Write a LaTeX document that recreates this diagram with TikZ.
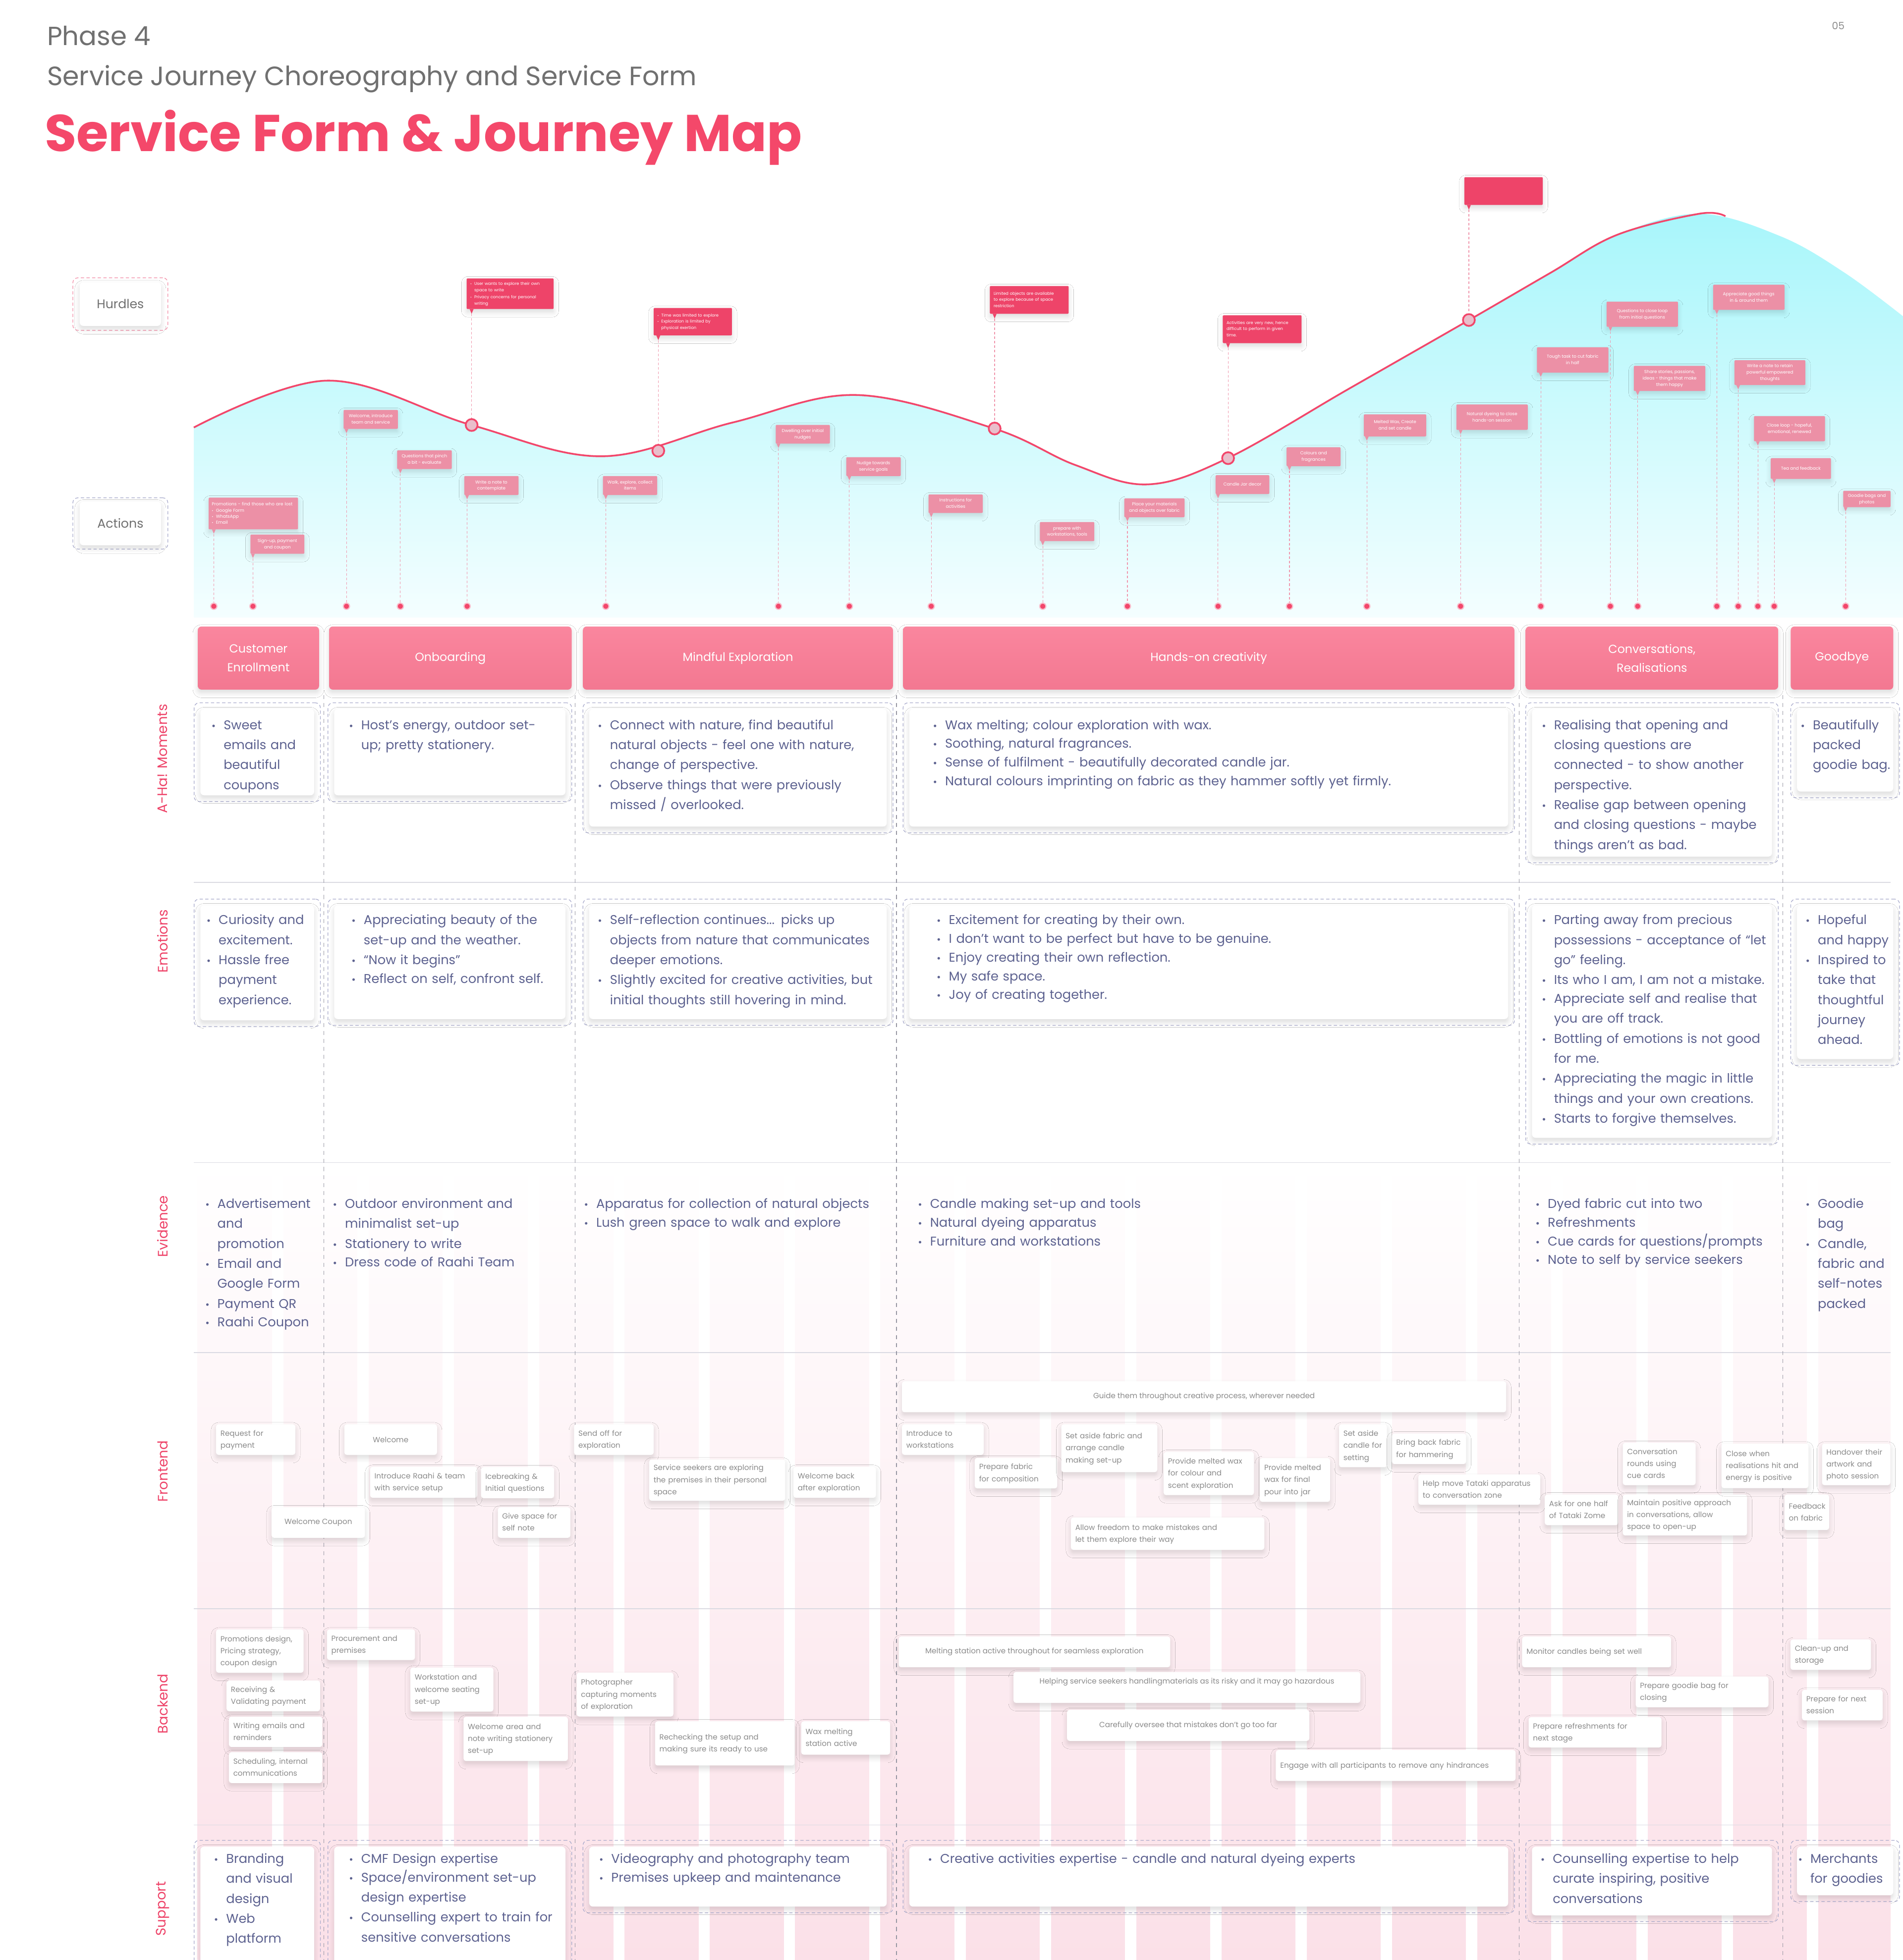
\documentclass[tikz,border=0pt]{standalone}
\usepackage{fontspec}
\setmainfont{Poppins}
\usepackage{graphicx}
\usepackage{xcolor}
\usepackage{tikz}
\usetikzlibrary{arrows.meta,positioning,calc,shadows.blur}
\definecolor{HurRed}{RGB}{238,68,105}
\definecolor{TitleRed}{RGB}{244,72,106}
\definecolor{ActPink}{RGB}{236,144,166}
\definecolor{PhaseTop}{RGB}{250,134,158}
\definecolor{PhaseBot}{RGB}{243,120,145}
\definecolor{CardInk}{RGB}{93,98,144}
\definecolor{FrameLav}{RGB}{167,169,203}
\definecolor{FramePink}{RGB}{242,139,165}
\definecolor{HeadGray}{RGB}{112,112,112}
\definecolor{BoxInk}{RGB}{138,138,138}
\definecolor{CyanTop}{RGB}{168,246,251}
\definecolor{CyanMid}{RGB}{196,250,253}
\definecolor{CyanBot}{RGB}{244,254,255}
\definecolor{StripePink}{RGB}{251,224,232}
\definecolor{RowLine}{RGB}{218,218,226}
\definecolor{ColDash}{RGB}{150,150,162}
\definecolor{CurveRed}{RGB}{242,71,107}
\definecolor{MarkFill}{RGB}{233,190,203}
\definecolor{DotHalo}{RGB}{249,190,204}
\definecolor{ActLine}{RGB}{240,150,172}
\newcommand{\txtlines}[1]{\begin{tabular}{@{}l@{}}#1\end{tabular}}
\newcommand{\ctrlines}[1]{\begin{tabular}{@{}c@{}}#1\end{tabular}}
\newcommand{\bpt}[1]{\noindent\makebox[0.95em][l]{\scalebox{0.8}{•}}\begin{tabular}[t]{@{}l@{}}#1\end{tabular}\par\vskip-0.1em\relax}
\newcommand{\panel}[5]{%
  \node[pframe,minimum width={#4-#2},minimum height={#5-#3}] (#1F) at (#2,#3) {};
  \node[pcard,minimum width={#4-#2-10},minimum height={#5-#3-10}] (#1C) at (#1F.center) {};}
\tikzset{
  softshadow/.style={blur shadow={shadow blur steps=6,shadow xshift=0pt,shadow yshift=-2.5pt,
                     shadow opacity=14,shadow blur radius=4pt}},
  pframe/.style={anchor=north west,draw=FrameLav,dash pattern=on 2.6pt off 1.9pt,line width=0.5pt,
                 rounded corners=4pt,inner sep=0pt},
  pcard/.style={anchor=center,fill=white,rounded corners=3pt,inner sep=0pt,softshadow},
  ptext/.style={anchor=base west,inner sep=0pt,text width=330pt,text=CardInk,
                font=\fontsize{10.2}{16}\selectfont},
  stagebox/.style={anchor=north west,rounded corners=3pt,top color=PhaseTop,bottom color=PhaseBot,
                   text=white,align=center,inner sep=0pt,font=\fontsize{9.4}{15}\selectfont,softshadow},
  rowlab/.style={rotate=90,text=HurRed,font=\fontsize{11}{13}\selectfont},
  actbox/.style={anchor=north west,fill=ActPink,text=white,inner sep=0pt,rounded corners=0.6pt,
                 font=\fontsize{3.5}{5.1}\selectfont,softshadow},
  hurbox/.style={anchor=north west,fill=HurRed,text=white,inner xsep=3pt,inner ysep=0pt,
                 rounded corners=0.6pt,font=\fontsize{3.3}{5}\selectfont,softshadow},
  actline/.style={ActLine,dash pattern=on 2pt off 1.6pt,line width=0.45pt},
  dotmark/.style={circle,fill=CurveRed,draw=DotHalo,line width=0.9pt,inner sep=0pt,minimum size=5pt},
  hmark/.style={circle,draw=CurveRed,fill=MarkFill,line width=1.4pt,inner sep=0pt,minimum size=9.5pt},
  fcard/.style={anchor=north west,fill=white,rounded corners=2pt,inner xsep=3.5pt,inner ysep=0pt,
                text=BoxInk,font=\fontsize{6}{9.6}\selectfont,softshadow},
  journey/.style={CurveRed,line width=1.4pt},
  colsep/.style={ColDash,dash pattern=on 3.2pt off 3.2pt,line width=0.45pt},
  rowsep/.style={RowLine,line width=0.6pt},
}

\begin{document}
\begin{tikzpicture}[x=1pt,y=-1pt]
  \useasboundingbox (0,0) rectangle (1522,1568);
  \fill[white] (0,0) rectangle (1522,1568);

  % header
  \node[anchor=base west,inner sep=0pt,text=HeadGray,font=\fontsize{21}{24}\selectfont] (phase) at (37.5,36.3) {Phase 4};
  \node[anchor=base west,inner sep=0pt,text=HeadGray,font=\fontsize{21.3}{24}\selectfont] (subtitle) at (37.5,68.4) {Service Journey Choreography and Service Form};
  \node[anchor=base west,inner sep=0pt,text=TitleRed,font=\fontsize{41.4}{48}\selectfont\bfseries] (title) at (35.5,121) {Service Form \& Journey Map};
  \node[anchor=base west,inner sep=0pt,text=HeadGray!80,font=\fontsize{8}{9}\selectfont] (pageno) at (1465,23.5) {05};

  % emotion curve
  \shade[top color=CyanTop,middle color=CyanMid,bottom color=CyanBot]
    (155,494) -- plot[smooth,tension=0.6] coordinates {(155,342) (262,304.5) (377,340) (481.5,365)
      (586,338) (685,316) (795.5,343) (860,372) (918,387.5) (982,366.5) (1078,311.5) (1175,256)
      (1240,218.3) (1293,188) (1359,171) (1424,189) (1475,218) (1522,253)} -- (1522,494) -- cycle;
  \draw[journey] plot[smooth,tension=0.6] coordinates {(155,342) (262,304.5) (377,340) (481.5,365)
      (586,338) (685,316) (795.5,343) (860,372) (918,387.5) (982,366.5) (1078,311.5) (1175,256)
      (1240,218.3) (1293,188) (1359,171) (1380,173)};

  % striped lanes
  \shade[top color=white,bottom color=StripePink] (158,930) rectangle (1512,1568);
  \foreach \k in {0,...,18}
    \fill[white] ({217.7+68.2*\k},930) rectangle ++(9,638);
  \foreach \y in {706,930,1082,1287,1460}
    \draw[rowsep] (155,\y) -- (1512,\y);
  \foreach \x in {259,460,717,1215,1426}
    \draw[colsep] (\x,556) -- (\x,1568);

  % left labels
  \node[pframe,draw=FramePink,minimum width=76,minimum height=42] (hurF) at (58,222) {};
  \node[pcard,minimum width=65,minimum height=35,text=HeadGray,font=\fontsize{10}{12}\selectfont] (hurdles) at (hurF.center) {Hurdles};
  \node[pframe,minimum width=76,minimum height=41] (actF) at (58,398) {};
  \node[pcard,minimum width=65,minimum height=35,text=HeadGray,font=\fontsize{10}{12}\selectfont] (actions) at (actF.center) {Actions};

  % hurdles
  \foreach \i/\x/\y in {1/377.2/340,2/526.5/360.6,3/795.5/342.8,4/982.2/366.5,5/1174.8/256}
    \node[hmark] (h\i) at (\x,\y) {};
  \node[hurbox,minimum width=69.6,minimum height=24.4,text width=63.6] (hb1) at (373,222.6)
    {\bpt{User wants to explore their own\\space to write}\bpt{Privacy concerns for personal\\writing}};
  \node[hurbox,minimum width=62.6,minimum height=21.9,text width=56.6] (hb2) at (522.6,246.2)
    {\bpt{Time was limited to explore}\bpt{Exploration is limited by\\physical exertion}};
  \node[hurbox,minimum width=63,minimum height=22.2,text width=57] (hb3) at (791.5,228.6)
    {\txtlines{Limited objects are available\\to explore because of space\\restriction}};
  \node[hurbox,minimum width=63,minimum height=22.3,text width=57] (hb4) at (977.8,252)
    {\txtlines{Activities are very new, hence\\difficult to perform in given\\time.}};
  \node[hurbox,minimum width=62.7,minimum height=22.2] (hb5) at (1171,141.5) {};
  \foreach \i in {1,...,5}{
    \draw[actline] (hb\i.south -| h\i) -- (h\i);
    \fill[HurRed] ($(hb\i.south -| h\i)+(-1.6,-0.2)$) -- ($(hb\i.south -| h\i)+(1.6,-0.2)$)
      -- ($(hb\i.south -| h\i)+(0,3.6)$) -- cycle;
  }

  % actions
  \node[actbox,minimum width=71.5,minimum height=25.4,text width=66.5,inner xsep=2.5pt] (a1) at (166.7,397.9)
    {\txtlines{Promotions - find those who are lost}\par\bpt{Google Form}\bpt{WhatsApp}\bpt{Email}};
  \node[dotmark] (dota1) at (171,485) {};
  \draw[actline] (a1.south -| dota1) -- (dota1);
  \fill[ActPink] ($(a1.south -| dota1)+(-1.5,-0.2)$) -- ($(a1.south -| dota1)+(1.5,-0.2)$)
    -- ($(a1.south -| dota1)+(0,3.2)$) -- cycle;
  \foreach \n/\d/\x/\y/\w/\h/\t in {
    a2/202.3/200.1/427.5/43.1/15.3/{Sign-up, payment\\and coupon},
    a3/277.1/274.6/327.7/43.4/15.2/{Welcome, introduce\\team and service},
    a4/320.2/317.4/360/43.7/15/{Questions that pinch\\a bit - evaluate},
    a5/373.6/371.1/380.6/43.4/15.2/{Write a note to\\contemplate},
    a6/484.5/482/380.6/43.4/15.2/{Walk, explore, collect\\items},
    a7/622.6/620.2/339.7/43.3/15/{Dwelling over initial\\nudges},
    a8/679.3/676.6/365.6/43.6/15/{Nudge towards\\service goals},
    a9/744.8/742.4/395.4/43.4/14.8/{Instructions for\\activities},
    a10/834/831.5/417.4/43.5/15.3/{prepare with\\workstations, tools},
    a11/901.7/899/398.5/48.2/15/{Place your materials\\and objects over fabric},
    a12/974.2/972/380/43/15/{Candle Jar decor},
    a13/1031.3/1028.8/357.6/43.2/15.1/{Colours and\\fragrances},
    a14/1093.2/1090.6/331.3/49.9/17.6/{Melted Wax, Create\\and set candle},
    a15/1168.2/1164.6/323.4/57.1/20.3/{Natural dyeing to close\\hands-on session},
    a16/1232.3/1229/277.6/57.2/20.3/{Tough task to cut fabric\\in half},
    a17/1288/1284.7/241.1/57.1/20.1/{Questions to close loop\\from initial questions},
    a18/1309.8/1306.5/292.5/57.2/20.1/{Share stories, passions,\\ideas - things that make\\them happy},
    a19/1373.1/1369.9/227.6/57.1/20.1/{Appreciate good things\\in \& around them},
    a20/1390.2/1387/288/56.7/19.8/{Write a note to retain\\powerful empowered\\thoughts},
    a21/1405.9/1402.6/332.7/56.8/20.1/{Close loop - hopeful,\\emotional, renewed},
    a22/1419/1416/366.3/48.2/16.6/{Tea and feedback},
    a23/1476.1/1474/392.4/37.8/13.1/{Goodie bags and\\photos}}{
    \node[actbox,minimum width=\w,minimum height=\h] (\n) at (\x,\y) {\ctrlines{\t}};
    \node[dotmark] (dot\n) at (\d,485) {};
    \draw[actline] (\n.south -| dot\n) -- (dot\n);
    \fill[ActPink] ($(\n.south -| dot\n)+(-1.5,-0.2)$) -- ($(\n.south -| dot\n)+(1.5,-0.2)$)
      -- ($(\n.south -| dot\n)+(0,3.2)$) -- cycle;
  }

  % stages
  \node[stagebox,minimum width=97,minimum height=50.5] (p1) at (158,501) {Customer\\Enrollment};
  \node[stagebox,minimum width=194,minimum height=50.5] (p2) at (263,501) {Onboarding};
  \node[stagebox,minimum width=248,minimum height=50.5] (p3) at (466,501) {Mindful Exploration};
  \node[stagebox,minimum width=489,minimum height=50.5] (p4) at (722,501) {Hands-on creativity};
  \node[stagebox,minimum width=202,minimum height=50.5] (p5) at (1220,501) {Conversations,\\Realisations};
  \node[stagebox,minimum width=82,minimum height=50.5] (p6) at (1432,501) {Goodbye};

  % row labels
  \node[rowlab] (rA) at (130,607) {A-Ha! Moments};
  \node[rowlab] (rE) at (130,753) {Emotions};
  \node[rowlab] (rV) at (130,981) {Evidence};
  \node[rowlab] (rF) at (130,1177) {Frontend};
  \node[rowlab] (rB) at (130,1363) {Backend};
  \node[rowlab] (rS) at (130,1527) {Support};

  % a-ha moments
  \panel{ah1}{155}{562}{256}{641}
  \panel{ah2}{262}{562}{457}{641}
  \panel{ah3}{466}{562}{714}{666}
  \panel{ah4}{722}{562}{1211}{666}
  \panel{ah5}{1220}{562}{1422}{690}
  \panel{ah6}{1432}{562}{1519}{638}
  \node[ptext] (ah1T) at (169,583.5) {\bpt{Sweet\\emails and\\beautiful\\coupons}};
  \node[ptext] (ah2T) at (279,583.5) {\bpt{Host’s energy, outdoor set-\\up; pretty stationery.}};
  \node[ptext] (ah3T) at (478,583.5) {\bpt{Connect with nature, find beautiful\\natural objects - feel one with nature,\\change of perspective.}\bpt{Observe things that were previously\\missed / overlooked.}};
  \node[ptext] (ah4T) at (746,583.5) {\bpt{Wax melting; colour exploration with wax.}\bpt{Soothing, natural fragrances.}\bpt{Sense of fulfilment - beautifully decorated candle jar.}\bpt{Natural colours imprinting on fabric as they hammer softly yet firmly.}};
  \node[ptext] (ah5T) at (1233,583.5) {\bpt{Realising that opening and\\closing questions are\\connected - to show another\\perspective.}\bpt{Realise gap between opening\\and closing questions - maybe\\things aren’t as bad.}};
  \node[ptext] (ah6T) at (1440,583.5) {\bpt{Beautifully\\packed\\goodie bag.}};

  % emotions
  \panel{em1}{155}{719}{256}{821}
  \panel{em2}{262}{719}{457}{820}
  \panel{em3}{466}{719}{714}{820}
  \panel{em4}{722}{719}{1211}{820}
  \panel{em5}{1220}{719}{1422}{915}
  \panel{em6}{1432}{719}{1519}{852}
  \node[ptext] (em1T) at (165,739.5) {\bpt{Curiosity and\\excitement.}\bpt{Hassle free\\payment\\experience.}};
  \node[ptext] (em2T) at (281,739.5) {\bpt{Appreciating beauty of the\\set-up and the weather.}\bpt{“Now it begins”}\bpt{Reflect on self, confront self.}};
  \node[ptext] (em3T) at (478,739.5) {\bpt{Self-reflection continues... picks up\\objects from nature that communicates\\deeper emotions.}\bpt{Slightly excited for creative activities, but\\initial thoughts still hovering in mind.}};
  \node[ptext] (em4T) at (749,739.5) {\bpt{Excitement for creating by their own.}\bpt{I don’t want to be perfect but have to be genuine.}\bpt{Enjoy creating their own reflection.}\bpt{My safe space.}\bpt{Joy of creating together.}};
  \node[ptext] (em5T) at (1233,739.5) {\bpt{Parting away from precious\\possessions - acceptance of “let\\go” feeling.}\bpt{Its who I am, I am not a mistake.}\bpt{Appreciate self and realise that\\you are off track.}\bpt{Bottling of emotions is not good\\for me.}\bpt{Appreciating the magic in little\\things and your own creations.}\bpt{Starts to forgive themselves.}};
  \node[ptext] (em6T) at (1444,739.5) {\bpt{Hopeful\\and happy}\bpt{Inspired to\\take that\\thoughtful\\journey\\ahead.}};

  % evidence
  \node[ptext] (ev1T) at (164,966.5) {\bpt{Advertisement\\and\\promotion}\bpt{Email and\\Google Form}\bpt{Payment QR}\bpt{Raahi Coupon}};
  \node[ptext] (ev2T) at (266,966.5) {\bpt{Outdoor environment and\\minimalist set-up}\bpt{Stationery to write}\bpt{Dress code of Raahi Team}};
  \node[ptext] (ev3T) at (467,966.5) {\bpt{Apparatus for collection of natural objects}\bpt{Lush green space to walk and explore}};
  \node[ptext] (ev4T) at (734,966.5) {\bpt{Candle making set-up and tools}\bpt{Natural dyeing apparatus}\bpt{Furniture and workstations}};
  \node[ptext] (ev5T) at (1228,966.5) {\bpt{Dyed fabric cut into two}\bpt{Refreshments}\bpt{Cue cards for questions/prompts}\bpt{Note to self by service seekers}};
  \node[ptext] (ev6T) at (1444,966.5) {\bpt{Goodie\\bag}\bpt{Candle,\\fabric and\\self-notes\\packed}};

  % frontend
  \foreach \n/\x/\y/\w/\h/\t in {
    f1/172.6/1139.2/63.4/24.5/{Request for\\payment},
    f3/295.8/1173.2/85.7/24.8/{Introduce Raahi \& team\\with service setup},
    f4/384.5/1173.5/58.5/24.8/{Icebreaking \&\\Initial questions},
    f6/398/1205.6/58/24.4/{Give space for\\self note},
    f7/458.9/1139.2/63.7/24.5/{Send off for\\exploration},
    f8/519/1167.3/108.8/33.1/{Service seekers are exploring\\the premises in their personal\\space},
    f9/634.4/1173.2/66/24.8/{Welcome back\\after exploration},
    f11/721.2/1139.2/65.4/24.5/{Introduce to\\workstations},
    f12/779.4/1166/66/24.5/{Prepare fabric\\for composition},
    f13/848.6/1139.2/76.8/38.3/{Set aside fabric and\\arrange candle\\making set-up},
    f14/930.5/1161.3/72.2/34.6/{Provide melted wax\\for colour and\\scent exploration},
    f15/1007.4/1166.2/56.2/35.1/{Provide melted\\wax for final\\pour into jar},
    f16/1070.8/1139.2/38.2/34.4/{Set aside\\candle for\\setting},
    f17/1113/1146.6/59.4/24.4/{Bring back fabric\\for hammering},
    f18/1134.2/1179.3/97.5/24.3/{Help move Tataki apparatus\\to conversation zone},
    f19/856.3/1213.8/154.7/25.9/{Allow freedom to make mistakes and\\let them explore their way},
    f20/1235.3/1195.4/58.7/24.5/{Ask for one half\\of Tataki Zome},
    f21/1297.7/1154/58.3/33.9/{Conversation\\rounds using\\cue cards},
    f22/1297.7/1195.4/99.4/32.8/{Maintain positive approach\\in conversations, allow\\space to open-up},
    f23/1376.6/1154.6/69.6/35.7/{Close when\\realisations hit and\\energy is positive},
    f24/1427/1195.4/35.7/28.4/{Feedback\\on fabric},
    f25/1457/1154.6/54.7/33.3/{Handover their\\artwork and\\photo session}}
    \node[fcard,minimum width=\w,minimum height=\h,text width=\w-7] (\n) at (\x,\y) {\txtlines{\t}};
  \node[fcard,minimum width=74.1,minimum height=24.5,align=center] (f2) at (275.2,1139.2) {Welcome};
  \node[fcard,minimum width=74.7,minimum height=24.4,align=center] (f5) at (217,1205.6) {Welcome Coupon};
  \node[fcard,minimum width=483.2,minimum height=24.8,align=center] (f10) at (721.2,1104.8) {Guide them throughout creative process, wherever needed};

  % backend
  \foreach \n/\x/\y/\w/\h/\t in {
    b1/172.6/1303.3/70/34.7/{Promotions design,\\Pricing strategy,\\coupon design},
    b2/181/1344.2/74.8/24.6/{Receiving \&\\Validating payment},
    b3/182.9/1373/74.7/24.4/{Writing emails and\\reminders},
    b4/182.9/1401.5/74.7/24.7/{Scheduling, internal\\communications},
    b5/261.3/1303.3/70.4/24.5/{Procurement and\\premises},
    b6/328/1333.8/66.4/35.3/{Workstation and\\welcome seating\\set-up},
    b7/370.5/1373.2/83.5/35.4/{Welcome area and\\note writing stationery\\set-up},
    b8/461/1337.8/77.4/35.2/{Photographer\\capturing moments\\of exploration},
    b9/523.7/1376.8/111.5/35.4/{Rechecking the setup and\\making sure its ready to use},
    b10/640.6/1376.8/71.1/26.7/{Wax melting\\station active},
    b14/1020.2/1399.8/191.8/24.7/{Engage with all participants to remove any hindrances},
    b15/1217.2/1309/119.1/24.6/{Monitor candles being set well},
    b16/1308/1341/106.2/24.6/{Prepare goodie bag for\\closing},
    b17/1222.4/1373.4/106.2/24.4/{Prepare refreshments for\\next stage},
    b18/1431.8/1311.3/64.4/24.4/{Clean-up and\\storage},
    b19/1441/1351.6/64.5/24.5/{Prepare for next\\session}}
    \node[fcard,minimum width=\w,minimum height=\h,text width=\w-7] (\n) at (\x,\y) {\txtlines{\t}};
  \node[fcard,minimum width=217.1,minimum height=24.6,align=center] (b11) at (718.6,1309) {Melting station active throughout for seamless exploration};
  \node[fcard,minimum width=277.4,minimum height=24.8,align=center] (b12) at (810.4,1337.3) {\ctrlines{Helping service seekers handlingmaterials as its risky and it may go hazardous\\\mbox{}}};
  \node[fcard,minimum width=193.8,minimum height=24.8,align=center] (b13) at (853.2,1367.7) {Carefully oversee that mistakes don’t go too far};

  % support
  \panel{su1}{155}{1472}{256}{1580}
  \panel{su2}{262}{1472}{457}{1580}
  \panel{su3}{466}{1472}{714}{1530}
  \panel{su4}{722}{1472}{1211}{1530}
  \panel{su5}{1220}{1472}{1422}{1537}
  \panel{su6}{1432}{1472}{1519}{1521}
  \node[ptext] (su1T) at (171,1490.5) {\bpt{Branding\\and visual\\design}\bpt{Web\\platform}};
  \node[ptext] (su2T) at (279,1490.5) {\bpt{CMF Design expertise}\bpt{Space/environment  set-up\\design expertise}\bpt{Counselling expert to train for\\sensitive conversations}};
  \node[ptext] (su3T) at (479,1490.5) {\bpt{Videography and photography team}\bpt{Premises upkeep and maintenance}};
  \node[ptext] (su4T) at (742,1490.5) {\bpt{Creative activities expertise - candle and natural dyeing experts}};
  \node[ptext] (su5T) at (1232,1490.5) {\bpt{Counselling expertise to help\\curate inspiring, positive\\conversations}};
  \node[ptext] (su6T) at (1438,1490.5) {\bpt{Merchants\\for goodies}};
\end{tikzpicture}
\end{document}
